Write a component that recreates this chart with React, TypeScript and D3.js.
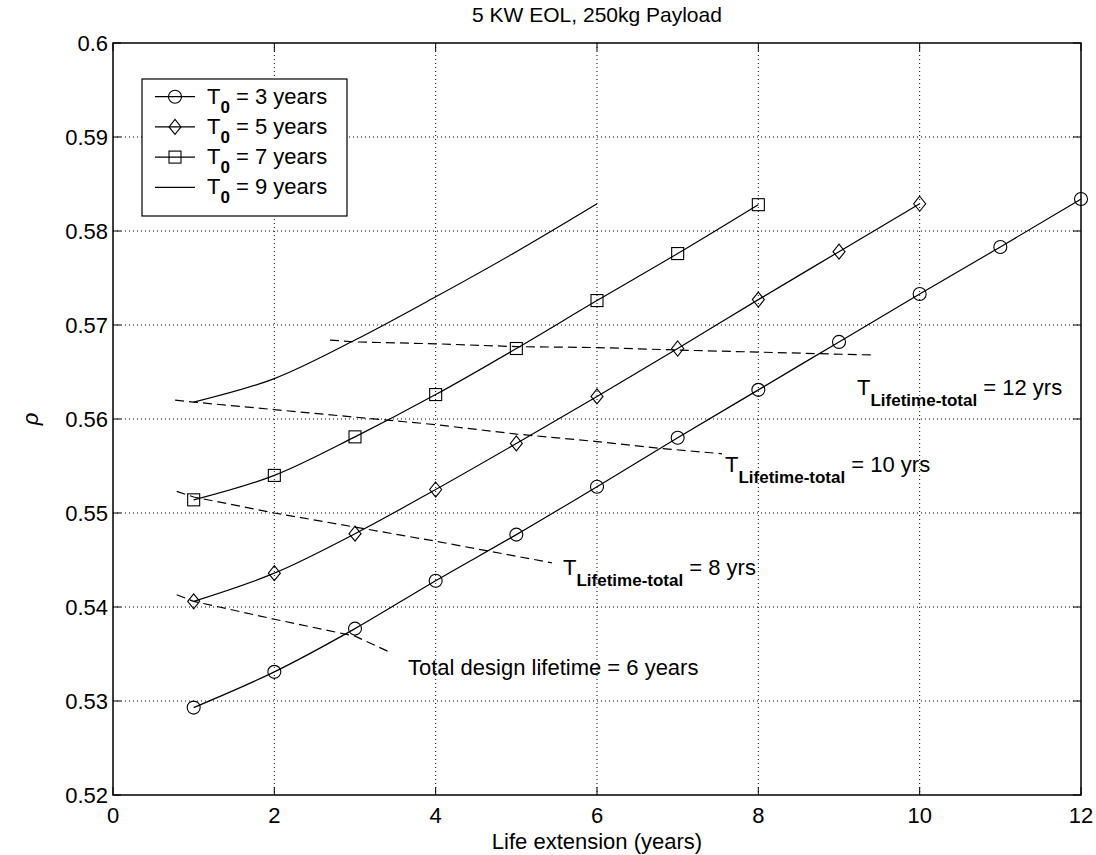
import React from "react";
import * as d3 from "d3";

const title = "5 KW EOL, 250kg Payload";
const xLabel = "Life extension (years)";
const yLabel = "ρ";
const xTicks = [0, 2, 4, 6, 8, 10, 12];
const yTicks = [0.52, 0.53, 0.54, 0.55, 0.56, 0.57, 0.58, 0.59, 0.6];

const t3x = [1, 2, 3, 4, 5, 6, 7, 8, 9, 10, 11, 12];
const t3y = [0.5293, 0.5331, 0.5377, 0.5428, 0.5477, 0.5528, 0.558, 0.5631, 0.5682, 0.5733, 0.5783, 0.5834];
const t5x = [1, 2, 3, 4, 5, 6, 7, 8, 9, 10];
const t5y = [0.5406, 0.5436, 0.5478, 0.5525, 0.5574, 0.5624, 0.5675, 0.5727, 0.5778, 0.5829];
const t7x = [1, 2, 3, 4, 5, 6, 7, 8];
const t7y = [0.5514, 0.554, 0.5581, 0.5626, 0.5675, 0.5726, 0.5776, 0.5828];
const t9x = [1, 2, 3, 4, 5, 6];
const t9y = [0.5618, 0.5643, 0.5684, 0.573, 0.5778, 0.5829];

const life6x = [0.79, 1, 2, 3, 3.43];
const life6y = [0.5413, 0.5406, 0.5387, 0.5369, 0.5352];
const life8x = [0.79, 1, 2, 3, 4, 5, 5.44];
const life8y = [0.5523, 0.5517, 0.55, 0.5485, 0.547, 0.5454, 0.5447];
const life10x = [0.77, 1, 2, 3, 4, 5, 6, 6.76, 7.55];
const life10y = [0.562, 0.5618, 0.561, 0.5602, 0.5594, 0.5584, 0.5576, 0.5569, 0.5563];
const life12x = [2.69, 3, 4, 5, 6, 7.15, 9.45];
const life12y = [0.5684, 0.5682, 0.568, 0.5677, 0.5676, 0.5673, 0.5668];

const legendLabels = ["3", "5", "7", "9"];

const W = 1096, H = 855;
const L = 113, R = 1081, T = 43, B = 795;
const FONT = "'Liberation Sans', Arial, Helvetica, sans-serif";
const FS = 22;

function Marker({ kind, x, y }: { kind: string; x: number; y: number }) {
  if (kind === "circle") return <circle cx={x} cy={y} r={6.5} fill="none" stroke="#000" strokeWidth={1.1} />;
  if (kind === "square") return <rect x={x - 6} y={y - 6} width={12} height={12} fill="none" stroke="#000" strokeWidth={1.1} />;
  if (kind === "diamond") return <path d={`M${x},${y - 7.5}L${x + 6},${y}L${x},${y + 7.5}L${x - 6},${y}Z`} fill="none" stroke="#000" strokeWidth={1.1} />;
  return null;
}

function Sub({ x, y, sub, rest }: { x: number; y: number; sub: string; rest: string }) {
  return (
    <text x={x} y={y} fontFamily={FONT} fontSize={FS} fill="#000">
      T<tspan dy={11} fontSize={17} fontWeight="bold">{sub}</tspan>
      <tspan dy={-11}>{rest}</tspan>
    </text>
  );
}

export default function App() {
  const x = d3.scaleLinear().domain([0, 12]).range([L, R]);
  const y = d3.scaleLinear().domain([0.52, 0.6]).range([B, T]);
  const line = d3.line<[number, number]>().x((d) => x(d[0])).y((d) => y(d[1]));
  const smooth = d3.line<[number, number]>().x((d) => x(d[0])).y((d) => y(d[1])).curve(d3.curveMonotoneX);

  const zip = (a: number[], b: number[]) => a.map((v, i) => [v, b[i]] as [number, number]);
  const series = [
    { xs: t3x, ys: t3y, kind: "circle" },
    { xs: t5x, ys: t5y, kind: "diamond" },
    { xs: t7x, ys: t7y, kind: "square" },
    { xs: t9x, ys: t9y, kind: "none" },
  ];
  const dashed = [
    zip(life6x, life6y),
    zip(life8x, life8y),
    zip(life10x, life10y),
    zip(life12x, life12y),
  ];

  return (
    <svg width={W} height={H} style={{ position: "absolute", left: 0, top: 0, background: "#fff" }}>
      <rect x={0} y={0} width={W} height={H} fill="#fff" />
      {xTicks.slice(1, -1).map((t) => (
        <line key={"gx" + t} x1={x(t)} x2={x(t)} y1={T} y2={B} stroke="#000" strokeWidth={1} strokeDasharray="1,3" />
      ))}
      {yTicks.slice(1, -1).map((t) => (
        <line key={"gy" + t} x1={L} x2={R} y1={y(t)} y2={y(t)} stroke="#000" strokeWidth={1} strokeDasharray="1,3" />
      ))}
      {xTicks.map((t) => (
        <g key={"tx" + t}>
          <line x1={x(t)} x2={x(t)} y1={B} y2={B - 8} stroke="#000" />
          <line x1={x(t)} x2={x(t)} y1={T} y2={T + 8} stroke="#000" />
          <text x={x(t)} y={B + 28} textAnchor="middle" fontFamily={FONT} fontSize={FS}>{t}</text>
        </g>
      ))}
      {yTicks.map((t) => (
        <g key={"ty" + t}>
          <line x1={L} x2={L + 8} y1={y(t)} y2={y(t)} stroke="#000" />
          <line x1={R} x2={R - 8} y1={y(t)} y2={y(t)} stroke="#000" />
          <text x={L - 5} y={y(t) + 8} textAnchor="end" fontFamily={FONT} fontSize={FS}>{String(+t.toFixed(2))}</text>
        </g>
      ))}
      {dashed.map((d, i) => (
        <path key={"d" + i} d={line(d) || ""} fill="none" stroke="#000" strokeWidth={1.2} strokeDasharray="9,5" />
      ))}
      {series.map((s, i) => (
        <g key={"s" + i}>
          <path d={smooth(zip(s.xs, s.ys)) || ""} fill="none" stroke="#000" strokeWidth={1.2} />
          {s.xs.map((v, j) => (
            <Marker key={j} kind={s.kind} x={x(v)} y={y(s.ys[j])} />
          ))}
        </g>
      ))}
      <rect x={L} y={T} width={R - L} height={B - T} fill="none" stroke="#000" strokeWidth={1.5} />
      <Sub x={857} y={395} sub="Lifetime-total" rest=" = 12 yrs" />
      <Sub x={725} y={472} sub="Lifetime-total" rest=" = 10 yrs" />
      <Sub x={563} y={575} sub="Lifetime-total" rest=" = 8 yrs" />
      <text x={408} y={675} fontFamily={FONT} fontSize={FS}>Total design lifetime = 6 years</text>
      <rect x={142} y={79} width={205} height={137} fill="#fff" stroke="#000" strokeWidth={1.2} />
      {series.map((s, i) => {
        const ly = 96.7 + i * 30.2;
        return (
          <g key={"lg" + i}>
            <line x1={155} x2={195} y1={ly} y2={ly} stroke="#000" strokeWidth={1.2} />
            <Marker kind={s.kind} x={175} y={ly} />
            <text x={207} y={ly + 7} fontFamily={FONT} fontSize={FS}>
              T<tspan dy={9} fontSize={17} fontWeight="bold">0</tspan>
              <tspan dy={-9}>{` = ${legendLabels[i]} years`}</tspan>
            </text>
          </g>
        );
      })}
      <text x={(L + R) / 2} y={22} textAnchor="middle" fontFamily={FONT} fontSize={21}>{title}</text>
      <text x={(L + R) / 2} y={849} textAnchor="middle" fontFamily={FONT} fontSize={FS}>{xLabel}</text>
      <text transform={`translate(38,${(T + B) / 2}) rotate(-90)`} textAnchor="middle" fontFamily={FONT} fontSize={FS} fontStyle="italic">{yLabel}</text>
    </svg>
  );
}
